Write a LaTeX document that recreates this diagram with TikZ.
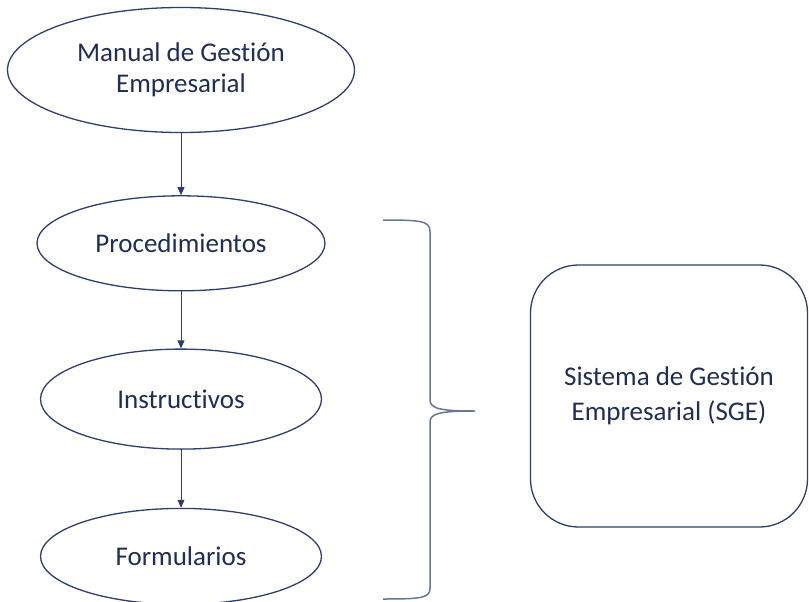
\documentclass[tikz,border=0pt]{standalone}
\usepackage{fontspec}
\setmainfont{Carlito}[Ligatures=CommonOff]
\usepackage{xcolor}
\usepackage{tikz}
\usetikzlibrary{positioning, arrows.meta, shapes.geometric}
\definecolor{navy}{RGB}{32,45,86}
\definecolor{edge}{RGB}{46,62,110}
\definecolor{bracecol}{RGB}{104,118,150}
\tikzset{
    doc/.style={ellipse, draw=edge, line width=1.3pt, fill=white, inner sep=0pt, align=center, text=navy, font=\fontsize{27}{31}\selectfont},
    sge/.style={rectangle, rounded corners=48pt, draw=edge, line width=1.3pt, fill=white, align=center, text=navy, minimum width=277pt, minimum height=262pt, font=\fontsize{27}{35}\selectfont},
    arrow/.style={-{Triangle[length=8pt,width=7pt]}, draw=edge, line width=0.8pt},
    bracket/.style={draw=bracecol, line width=1.5pt}
}
\begin{document}
\begin{tikzpicture}[x=1pt, y=-1pt]
        \useasboundingbox (0,0) rectangle (809,602);

        % Documents
        \node[doc, minimum width=347pt, minimum height=125pt] (Manual) at (181,70) {Manual de Gestión\\Empresarial};
        \node[doc, minimum width=288pt, minimum height=95pt, below=62pt of Manual] (Proc) {Procedimientos};
        \node[doc, minimum width=281pt, minimum height=100pt, below=57pt of Proc] (Instr) {Instructivos};
        \node[doc, minimum width=281pt, minimum height=96pt, below=58pt of Instr] (Form) {Formularios};

        \draw[arrow] (Manual) -- (Proc);
        \draw[arrow] (Proc) -- (Instr);
        \draw[arrow] (Instr) -- (Form);

        % Brace
        \coordinate (BraceTop) at (383,220);
        \coordinate (BraceTip) at (475,411);
        \coordinate (BraceBot) at (383,599);
        \draw[bracket] (BraceTop) .. controls (422,220) and (430,221) .. (430,232)
            -- (430,400) .. controls (430,409) and (442,411) .. (BraceTip)
            .. controls (442,411) and (430,413) .. (430,422)
            -- (430,588) .. controls (430,598) and (422,599) .. (BraceBot);

        % System
        \node[sge] (SGE) at (669,396) {Sistema de Gestión\\Empresarial (SGE)};
\end{tikzpicture}
\end{document}
